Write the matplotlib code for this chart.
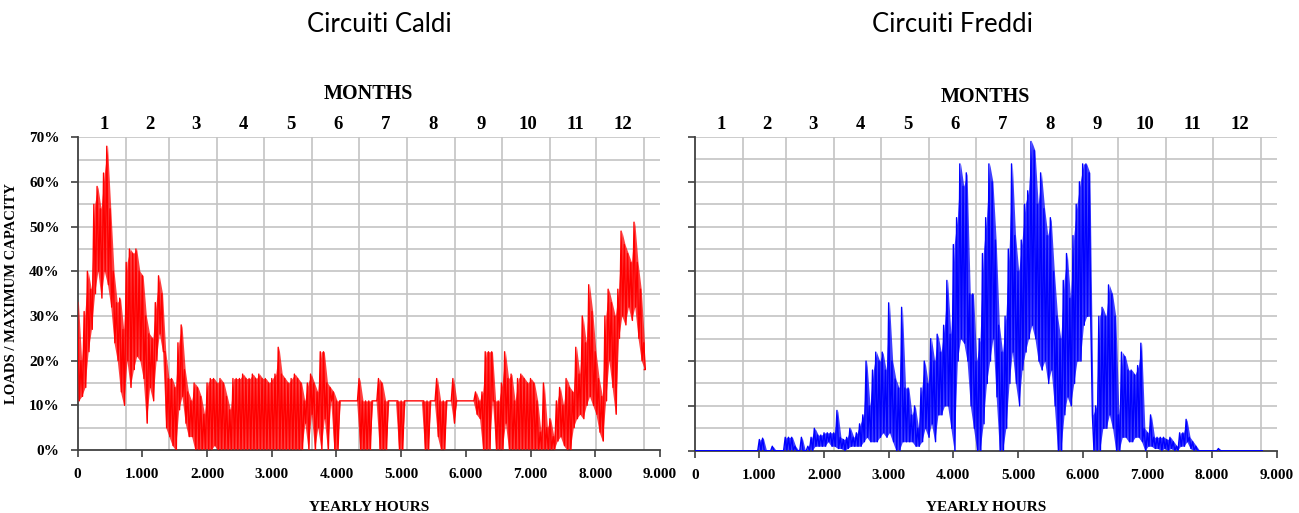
import matplotlib
matplotlib.use("Agg")
import matplotlib.pyplot as plt
import numpy as np

# sample start hours, every 50 h over the year (0 ... 8750)
hours = np.arange(0, 8760, 50)

# circuiti caldi: local peak (hi) and trough (lo) for each 50 h block, in %
hot_hi = [33,20,31,40,36,55,59,54,62,68, 54,40,33,34,27,42,45,44,45,40,
          39,30,26,25,33,39,35,22,16,16, 14,24,28,18,13,11,15,14,12,8,
          15,16,16,15,16,15,12,9,16,16, 16,17,16,16,17,16,17,16,16,15,
          16,17,23,17,16,15,16,17,16,15, 11,15,17,15,13,22,22,15,14,13,
          11,11,11,11,11,11,11,16,11,11, 11,11,11,16,15,11,11,11,11,11,
          11,11,11,11,11,11,11,11,11,11, 11,16,11,11,11,11,16,11,11,11,
          11,11,11,13,11,13,22,22,22,11, 11,15,22,16,17,11,16,17,16,15,
          16,15,11,4,15,5,7,3,11,14, 10,16,14,13,23,17,30,24,37,31,
          22,16,12,30,36,33,30,36,49,46, 44,42,51,42,36,24]
hot_lo = [11,12,14,22,27,35,40,34,40,37, 32,24,20,13,10,20,14,18,21,20,
          16,6,14,11,20,26,22,5,3,1, 0,9,12,6,3,3,0,0,0,0,
          0,0,1,0,0,0,0,0,0,0, 0,0,0,0,0,0,0,0,0,0,
          0,0,0,0,0,0,0,0,0,0, 6,0,8,0,5,0,7,0,11,0,
          0,11,11,11,11,11,11,0,0,0, 0,11,11,0,0,0,11,11,11,0,
          0,11,11,11,11,11,11,0,0,11, 11,3,0,0,11,11,6,11,11,11,
          11,11,11,8,7,0,0,0,11,0, 0,0,6,0,0,0,0,0,0,0,
          0,0,0,0,0,0,0,0,2,3, 1,0,0,5,7,8,7,10,12,10,
          8,4,2,11,20,14,8,25,30,28, 32,29,32,25,20,18]

# circuiti freddi
cold_hi = [0,0,0,0,0,0,0,0,0,0, 0,0,0,0,0,0,0,0,0,0,
           2.5,2.8,0,0,1,0,0,0,3,3, 3,1,0,3,0,1,3,5,3.5,3.5,
           4,4,4,4,9,3,2.5,3,5,3, 4,6,8,20,10,18,22,20,22,18,
           33,20,16,14,32,14,14,8,10,5, 14,20,15,25,20,26,22,28,38,26,
           46,52,64,59,62,35,35,20,25,44, 52,64,60,47,28,22,30,45,64,48,
           40,47,55,58,69,67,55,62,54,48, 52,40,30,25,38,44,34,48,55,60,
           64,64,62,8,10,30,32,30,37,35, 30,8,22,21,18,18,17,19,24,5,
           4,8,3,3,3,3,2.5,3,2,1, 4,4,7,3,2,1,0,0,0,0,
           0,0,0.5,0,0,0,0,0,0,0, 0,0,0,0,0,0]
cold_lo = [0,0,0,0,0,0,0,0,0,0, 0,0,0,0,0,0,0,0,0,0,
           0,0,0,0,0,0,0,0,0,0, 0,0,0,0,0,0,0,1,1,1,
           1,2,1,1,0.5,0.5,0,0.5,1,1, 1,1,2,3,2,2,2,3,4,3,
           4,2,0,0,2,2,2,2,1,1, 2,5,3,6,2,8,8,10,10,5,
           0,20,25,24,20,10,5,0,0,6, 15,20,25,12,0,0,5,15,22,15,
           10,18,22,25,28,25,20,18,20,15, 18,10,0,0,8,12,10,15,20,20,
           28,30,30,0,0,0,5,5,8,5, 0,0,3,3,2,2,3,3,2,0,
           1,1,0.5,0.5,0,0.5,0,0.5,0,0, 1,1,2,0.5,0,0,0,0,0,0,
           0,0,0,0,0,0,0,0,0,0, 0,0,0,0,0,0]

month_edges = [0, 744, 1416, 2160, 2880, 3624, 4344, 5088, 5832, 6552, 7296, 8016, 8760]
month_names = [str(m) for m in range(1, 13)]
xtick_vals = list(range(0, 9001, 1000))
xtick_labels = ["0", "1.000", "2.000", "3.000", "4.000", "5.000", "6.000", "7.000", "8.000", "9.000"]
titles = ["Circuiti Caldi", "Circuiti Freddi"]

serif = "Liberation Serif"


def zigzag(hi, lo):
    x = np.empty(2 * len(hours))
    y = np.empty(2 * len(hours))
    x[0::2] = hours
    x[1::2] = hours + 25
    y[0::2] = hi
    y[1::2] = lo
    return np.append(x, 8760), np.append(y, lo[-1]) / 100.0


fig = plt.figure(figsize=(12.99, 5.13), dpi=100, facecolor='white')
ax1 = fig.add_axes([0.0598, 0.1228, 0.4482, 0.6096])
ax2 = fig.add_axes([0.5348, 0.1214, 0.4480, 0.6116])

series = [(hot_hi, hot_lo, '#ff0000'), (cold_hi, cold_lo, '#0000ff')]
title_x = [0.292, 0.733]

for i, ax in enumerate([ax1, ax2]):
    hi, lo, col = series[i]
    x, y = zigzag(hi, lo)
    # band between troughs and peaks, then the spiky trace on top
    ax.fill_between(hours + 12, np.array(lo) / 100.0, np.array(hi) / 100.0,
                    color=col, alpha=0.75, lw=0, zorder=2)
    ax.plot(x, y, color=col, lw=1.0, zorder=3)

    ax.set_xlim(0, 9000)
    ax.set_ylim(0, 0.7)

    # grid: every 5% horizontally, month boundaries vertically
    for v in np.arange(0.05, 0.701, 0.05):
        ax.axhline(v, color='#c4c4c4', lw=1.2, zorder=1)
    for m in month_edges[1:]:
        ax.axvline(m, color='#c4c4c4', lw=1.2, zorder=1)

    for s in ['top', 'right']:
        ax.spines[s].set_visible(False)
    ax.spines['left'].set_color('#404040')
    ax.spines['bottom'].set_color('#404040')
    ax.spines['left'].set_linewidth(1.3)
    ax.spines['bottom'].set_linewidth(1.3)

    ax.set_xticks(xtick_vals)
    ax.set_xticklabels(xtick_labels, fontfamily=serif, fontweight='bold', fontsize=11)
    ax.set_yticks(np.arange(0, 0.71, 0.1))
    if i == 0:
        ax.set_yticklabels([f"{int(round(v*100))}%" for v in np.arange(0, 0.71, 0.1)],
                           fontfamily=serif, fontweight='bold', fontsize=11)
        ax.set_ylabel("LOADS / MAXIMUM CAPACITY", fontfamily=serif, fontweight='bold',
                      fontsize=10.5, labelpad=8)
    else:
        ax.set_yticklabels([])
    ax.tick_params(axis='both', direction='out', length=5, width=1.2, color='#404040', pad=8)
    ax.set_xlabel("YEARLY HOURS", fontfamily=serif, fontweight='bold', fontsize=11, labelpad=14)

    # months on top
    top = ax.twiny()
    top.set_xlim(0, 9000)
    mids = [(month_edges[k] + month_edges[k + 1]) / 2 + 40 for k in range(12)]
    top.set_xticks(mids)
    top.set_xticklabels(month_names, fontfamily=serif, fontweight='bold', fontsize=13.5)
    top.tick_params(axis='x', length=0, pad=3)
    for s in top.spines.values():
        s.set_visible(False)
    top.set_xlabel("MONTHS", fontfamily=serif, fontweight='bold', fontsize=14.5,
                   labelpad=12 if i == 0 else 10)

    fig.text(title_x[i], 0.953, titles[i], ha='center', va='center', fontsize=18.5, fontfamily='Lato')

fig.savefig("out.png", dpi=100, facecolor='white')
